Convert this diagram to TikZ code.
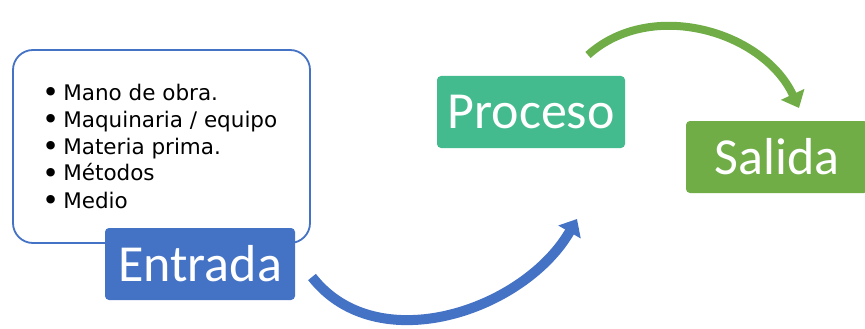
\documentclass[tikz,border=0pt]{standalone}
\usepackage{fontspec}
\usepackage{graphicx}
\newfontfamily\calfont{Carlito}
\newfontfamily\listfont{DejaVu Sans}
\usetikzlibrary{arrows.meta}
\definecolor{cblue}{HTML}{4472C4}
\definecolor{cteal}{HTML}{44BB8E}
\definecolor{cgreen}{HTML}{70AD47}
\newcommand{\bigbul}{\raisebox{-2.2pt}{\scalebox{1.35}{•}}}
\begin{document}
\begin{tikzpicture}[x=1pt,y=-1pt,
  bigbox/.style={rounded corners=4pt,minimum height=72pt,text=white,font=\calfont\fontsize{52}{56}\selectfont,inner sep=0pt},
  listbox/.style={draw=cblue,line width=1.8pt,fill=white,rounded corners=20pt,minimum width=297pt,minimum height=193pt},
  bigarrow/.style={line width=#1,-{Triangle[length=15pt,width=25pt]}}]
\useasboundingbox (0,0) rectangle (865,329);
\node[listbox] (list) at (161.5,146.5) {};
\node[anchor=base west,inner sep=0pt,font=\listfont\fontsize{21.5}{27}\selectfont,align=left] (items) at (42,100)
 {\begin{tabular}[t]{@{}l@{\hspace{4pt}}l@{}}
 \bigbul&Mano de obra.\\
 \bigbul&Maquinaria / equipo\\
 \bigbul&Materia prima.\\
 \bigbul&Métodos\\
 \bigbul&Medio
 \end{tabular}};
\node[bigbox,fill=cblue,minimum width=190pt] (entrada) at (200,264) {Entrada};
\node[bigbox,fill=cteal,minimum width=188pt] (proceso) at (531,112) {Proceso};
\node[bigbox,fill=cgreen,minimum width=182pt] (salida) at (777,157) {Salida};
\coordinate (b1) at (312,277);
\coordinate (b2) at (577,219);
\coordinate (g1) at (588,55);
\coordinate (g2) at (799,108);
\draw[bigarrow=10pt,draw=cblue] (b1) to[out=-52,in=-120] (b2);
\draw[bigarrow=8pt,draw=cgreen] (g1) to[out=42,in=115] (g2);
\end{tikzpicture}
\end{document}
